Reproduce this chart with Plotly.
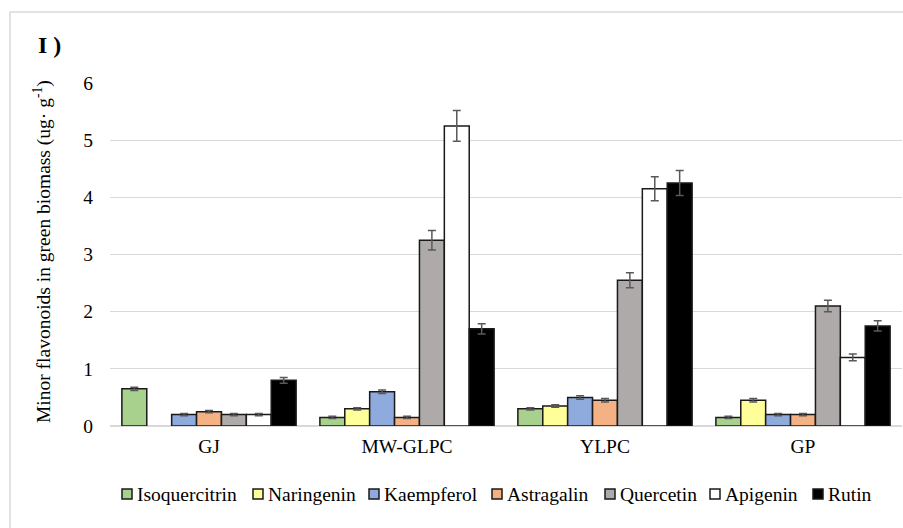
import plotly.graph_objects as go

categories = ["GJ", "MW-GLPC", "YLPC", "GP"]
series_names = ["Isoquercitrin", "Naringenin", "Kaempferol", "Astragalin", "Quercetin", "Apigenin", "Rutin"]

isoquercitrin = [0.65, 0.15, 0.30, 0.15]
naringenin = [None, 0.30, 0.35, 0.45]
kaempferol = [0.20, 0.60, 0.50, 0.20]
astragalin = [0.25, 0.15, 0.45, 0.20]
quercetin = [0.20, 3.25, 2.55, 2.10]
apigenin = [0.20, 5.25, 4.15, 1.20]
rutin = [0.80, 1.70, 4.25, 1.75]

err_isoquercitrin = [0.03, 0.02, 0.02, 0.02]
err_naringenin = [0.0, 0.02, 0.02, 0.03]
err_kaempferol = [0.02, 0.03, 0.03, 0.02]
err_astragalin = [0.02, 0.02, 0.03, 0.02]
err_quercetin = [0.02, 0.17, 0.13, 0.10]
err_apigenin = [0.02, 0.27, 0.21, 0.06]
err_rutin = [0.05, 0.09, 0.22, 0.09]

values = [isoquercitrin, naringenin, kaempferol, astragalin, quercetin, apigenin, rutin]
errors = [err_isoquercitrin, err_naringenin, err_kaempferol, err_astragalin, err_quercetin, err_apigenin, err_rutin]
colors = ["#a9d18e", "#ffff99", "#8faadc", "#f4b183", "#aeaaaa", "#ffffff", "#000000"]

FONT = "Liberation Serif, Times New Roman, serif"
FS = 19.5

fig = go.Figure()
for name, vals, errs, col in zip(series_names, values, errors, colors):
    fig.add_trace(go.Bar(
        x=categories, y=vals, name=name, showlegend=False,
        marker=dict(color=col, line=dict(color="#1a1a1a", width=1.5)),
        error_y=dict(type="data", array=errs, visible=True, color="#595959", thickness=1.5, width=4),
    ))

W, H = 903, 528
L, R, T, B = 110, 1, 83, 102
pw = W - L - R
ph = H - T - B


def px(x):
    return (x - L) / pw


def py(y):
    return (H - B - y) / ph


# legend layout (pixel positions of each entry's swatch, left edge)
legend_left = [122, 253, 369, 492, 605, 710, 813]
legend_yc = 494
sw = 10

shapes = [dict(type="rect", xref="paper", yref="paper",
               x0=px(10), x1=px(915), y0=py(545), y1=py(12),
               line=dict(color="#d9d9d9", width=1.5), fillcolor="rgba(0,0,0,0)", layer="below")]
annotations = [
    dict(text="<b>I )</b>", xref="paper", yref="paper", x=px(36), y=py(45),
         xanchor="left", yanchor="middle", showarrow=False, font=dict(family=FONT, size=24)),
    dict(text="Minor flavonoids in green biomass (ug· g<sup>-1</sup>)", xref="paper", yref="paper",
         x=px(42), y=py(252), xanchor="center", yanchor="middle", textangle=-90,
         showarrow=False, font=dict(family=FONT, size=FS)),
]
for name, col, lx in zip(series_names, colors, legend_left):
    shapes.append(dict(type="rect", xref="paper", yref="paper",
                       x0=px(lx), x1=px(lx + sw), y0=py(legend_yc + sw / 2), y1=py(legend_yc - sw / 2),
                       line=dict(color="#1a1a1a", width=1.5), fillcolor=col))
    annotations.append(dict(text=name, xref="paper", yref="paper", x=px(lx + sw + 3), y=py(legend_yc),
                            xanchor="left", yanchor="middle", showarrow=False,
                            font=dict(family=FONT, size=FS)))

fig.update_layout(
    width=W, height=H,
    margin=dict(l=L, r=R, t=T, b=B),
    barmode="group", bargap=0.12, bargroupgap=0,
    plot_bgcolor="white", paper_bgcolor="white",
    font=dict(family=FONT, size=FS, color="#000000"),
    showlegend=False,
    xaxis=dict(showgrid=False, showline=False, ticks="", tickfont=dict(size=FS, family=FONT),
               ticklabelstandoff=6),
    yaxis=dict(range=[0, 6], dtick=1, showgrid=True, gridcolor="#d9d9d9", gridwidth=1.2,
               zeroline=True, zerolinecolor="#d9d9d9", zerolinewidth=1.5,
               showline=False, ticks="", tickfont=dict(size=FS, family=FONT),
               ticklabelstandoff=16),
    shapes=shapes,
    annotations=annotations,
)

fig.write_html("out.html", config={"displayModeBar": False},
               post_script="document.body.style.margin='0';document.body.style.overflow='hidden';")
